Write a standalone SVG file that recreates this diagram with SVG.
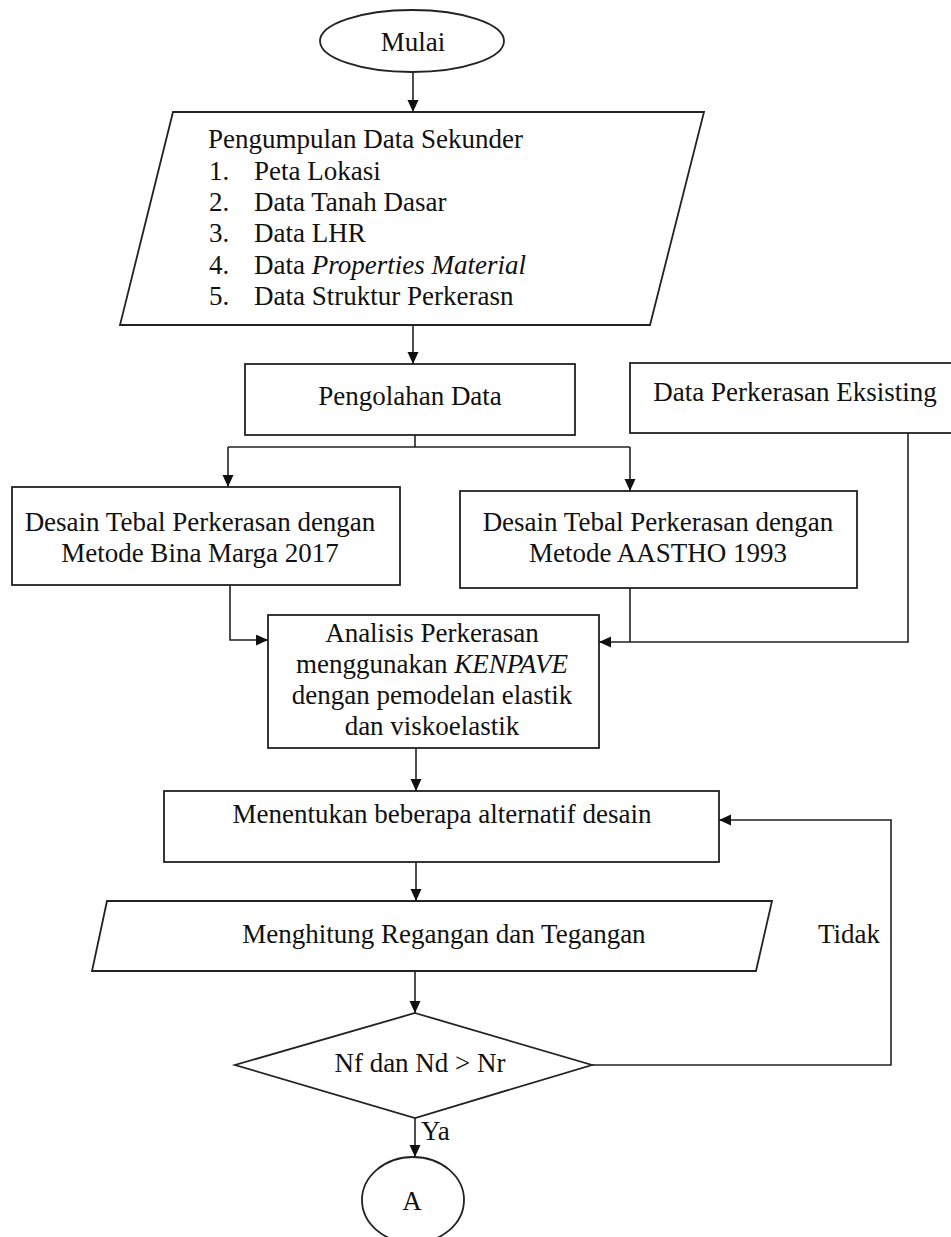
<svg xmlns="http://www.w3.org/2000/svg" width="951" height="1237" viewBox="0 0 951 1237">
<style>
.s{fill:#fff;stroke:#222;stroke-width:1.8}
.c{fill:none;stroke:#222;stroke-width:1.6}
text{font-family:"Liberation Serif","Times New Roman",serif;font-size:27px;fill:#111}
.m{text-anchor:middle}
.i{font-style:italic}
</style>
<defs>
<marker id="ah" markerUnits="userSpaceOnUse" markerWidth="12" markerHeight="12" refX="12" refY="5.5" orient="auto">
<path d="M0,0 L12,5.5 L0,11 z" fill="#111"/>
</marker>
</defs>
<rect width="951" height="1237" fill="#fff"/>
<g id="connectors">
<path class="c" d="M413,72 V112" marker-end="url(#ah)"/>
<path class="c" d="M413,325 V364" marker-end="url(#ah)"/>
<path class="c" d="M415,435 V447 M228,447 H630"/>
<path class="c" d="M228,447 V487" marker-end="url(#ah)"/>
<path class="c" d="M630,447 V491" marker-end="url(#ah)"/>
<path class="c" d="M230,585 V640 H268" marker-end="url(#ah)"/>
<path class="c" d="M630,588 V642"/>
<path class="c" d="M908,433 V642 H599" marker-end="url(#ah)"/>
<path class="c" d="M416,748 V791" marker-end="url(#ah)"/>
<path class="c" d="M416,862 V901" marker-end="url(#ah)"/>
<path class="c" d="M415,971 V1013" marker-end="url(#ah)"/>
<path class="c" d="M592,1065 H891 V820 H719" marker-end="url(#ah)"/>
<path class="c" d="M415,1118 V1157" marker-end="url(#ah)"/>
<text x="880" y="943" text-anchor="end">Tidak</text>
<text x="421" y="1140">Ya</text>
</g>
<g id="mulai">
<ellipse class="s" cx="412" cy="41" rx="92" ry="31"/>
<text class="m" x="413" y="51">Mulai</text>
</g>
<g id="pengumpulan">
<polygon class="s" points="173,112 704,112 650,325 120,325"/>
<text x="208" y="148">Pengumpulan Data Sekunder</text>
<text x="209" y="179.5">1.</text><text x="254" y="179.5">Peta Lokasi</text>
<text x="209" y="211">2.</text><text x="254" y="211">Data Tanah Dasar</text>
<text x="209" y="242">3.</text><text x="254" y="242">Data LHR</text>
<text x="209" y="274">4.</text><text x="254" y="274">Data <tspan class="i">Properties Material</tspan></text>
<text x="209" y="305">5.</text><text x="254" y="305">Data Struktur Perkerasn</text>
</g>
<g id="pengolahan">
<rect class="s" x="245" y="364" width="330" height="71"/>
<text class="m" x="410" y="405">Pengolahan Data</text>
</g>
<g id="eksisting">
<rect class="s" x="630" y="363" width="340" height="70"/>
<text class="m" x="795" y="401">Data Perkerasan Eksisting</text>
</g>
<g id="desain-bina-marga">
<rect class="s" x="12" y="487" width="388" height="98"/>
<text class="m" x="200" y="531">Desain Tebal Perkerasan dengan</text>
<text class="m" x="200" y="562">Metode Bina Marga 2017</text>
</g>
<g id="desain-aastho">
<rect class="s" x="460" y="491" width="397" height="97"/>
<text class="m" x="658" y="531">Desain Tebal Perkerasan dengan</text>
<text class="m" x="658" y="562">Metode AASTHO 1993</text>
</g>
<g id="analisis">
<rect class="s" x="268" y="615" width="331" height="133"/>
<text class="m" x="432" y="642">Analisis Perkerasan</text>
<text class="m" x="432" y="673">menggunakan <tspan class="i">KENPAVE</tspan></text>
<text class="m" x="432" y="704">dengan pemodelan elastik</text>
<text class="m" x="432" y="735">dan viskoelastik</text>
</g>
<g id="menentukan">
<rect class="s" x="164" y="791" width="555" height="71"/>
<text class="m" x="442" y="823">Menentukan beberapa alternatif desain</text>
</g>
<g id="menghitung">
<polygon class="s" points="107,901 772,901 756,971 92,971"/>
<text class="m" x="444" y="943">Menghitung Regangan dan Tegangan</text>
</g>
<g id="keputusan">
<polygon class="s" points="415,1013 592,1065 415,1118 235,1065"/>
<text class="m" x="420" y="1072">Nf dan Nd &gt; Nr</text>
</g>
<g id="a">
<ellipse class="s" cx="413" cy="1200" rx="51" ry="43"/>
<text class="m" x="412" y="1210">A</text>
</g>
</svg>
